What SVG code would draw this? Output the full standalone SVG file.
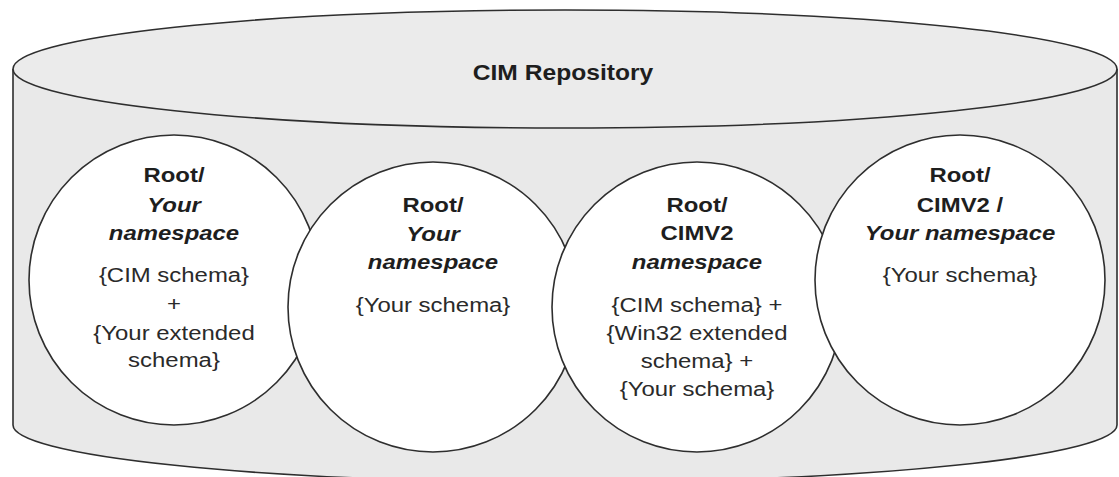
<svg xmlns="http://www.w3.org/2000/svg" width="1119" height="477" viewBox="0 0 1119 477">
<style>
.bg{fill:#ffffff}
.body{fill:#e9e9e9;stroke:none}
.edge{fill:none;stroke:#2e2e2e;stroke-width:1.6}
.top{fill:#ebebeb;stroke:#2e2e2e;stroke-width:1.6}
.ns{fill:#ffffff;stroke:#2e2e2e;stroke-width:1.6}
text{font-family:"Liberation Sans",Arial,Helvetica,sans-serif;font-size:21px;fill:#1e1e1e;text-anchor:middle}
.b{font-weight:bold}
.bi{font-weight:bold;font-style:italic}
.r{fill:#2a2a2a}
.title{font-size:22px;font-weight:bold}
</style>
<rect class="bg" x="0" y="0" width="1119" height="477"/>
<g id="repository">
<path class="body" d="M13 69 V425 A552 57 0 0 0 1117 425 V69 Z"/>
<path class="edge" d="M13 69 V425 A552 57 0 0 0 1117 425 V69"/>
<ellipse class="top" cx="565" cy="69" rx="552" ry="59"/>
<g transform="translate(563 0) scale(1.12 1)"><text class="title" x="0" y="80">CIM Repository</text></g>
</g>
<g id="connectors"></g>
<g id="ns1">
<circle class="ns" cx="174" cy="280" r="145"/>
<g transform="translate(174 0) scale(1.14 1)">
<text class="b" x="0" y="182">Root/</text>
<text class="bi" x="0" y="212">Your</text>
<text class="bi" x="0" y="240">namespace</text>
<text class="r" x="0" y="282">{CIM schema}</text>
<text class="r" x="0" y="311">+</text>
<text class="r" x="0" y="340">{Your extended</text>
<text class="r" x="0" y="367">schema}</text>
</g>
</g>
<g id="ns2">
<circle class="ns" cx="433" cy="307" r="145"/>
<g transform="translate(433 0) scale(1.14 1)">
<text class="b" x="0" y="212">Root/</text>
<text class="bi" x="0" y="241">Your</text>
<text class="bi" x="0" y="269">namespace</text>
<text class="r" x="0" y="312">{Your schema}</text>
</g>
</g>
<g id="ns3">
<circle class="ns" cx="697" cy="307" r="145"/>
<g transform="translate(697 0) scale(1.14 1)">
<text class="b" x="0" y="212">Root/</text>
<text class="b" x="0" y="240">CIMV2</text>
<text class="bi" x="0" y="269">namespace</text>
<text class="r" x="0" y="312">{CIM schema} +</text>
<text class="r" x="0" y="340">{Win32 extended</text>
<text class="r" x="0" y="368">schema} +</text>
<text class="r" x="0" y="396">{Your schema}</text>
</g>
</g>
<g id="ns4">
<circle class="ns" cx="960" cy="280" r="145"/>
<g transform="translate(960 0) scale(1.14 1)">
<text class="b" x="0" y="182">Root/</text>
<text class="b" x="0" y="212">CIMV2 /</text>
<text class="bi" x="0" y="240">Your namespace</text>
<text class="r" x="0" y="282">{Your schema}</text>
</g>
</g>
</svg>
